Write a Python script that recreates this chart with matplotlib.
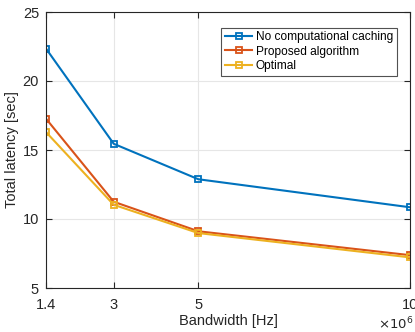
import matplotlib
matplotlib.use('Agg')
import matplotlib.pyplot as plt

plt.rcParams['font.family'] = ['Liberation Sans', 'DejaVu Sans']

bandwidth = [1.4e6, 3e6, 5e6, 10e6]
no_caching = [22.35, 15.45, 12.88, 10.85]
proposed = [17.27, 11.25, 9.11, 7.38]
optimal = [16.3, 11.03, 8.98, 7.22]
xtick_labels = ['1.4', '3', '5', '10']

fig = plt.figure(figsize=(4.15, 3.32), dpi=100)
ax = fig.add_axes([46/415, 1 - 288/332, 364/415, 276/332])

ax.plot(bandwidth, no_caching, color='#0072BD', lw=1.5, marker='s', ms=5,
        mfc='none', mew=1.3, label='No computational caching')
ax.plot(bandwidth, proposed, color='#D95319', lw=1.5, marker='s', ms=5,
        mfc='none', mew=1.3, label='Proposed algorithm')
ax.plot(bandwidth, optimal, color='#EDB120', lw=1.5, marker='s', ms=5,
        mfc='none', mew=1.3, label='Optimal')

ax.set_xlim(1.4e6, 10e6)
ax.set_ylim(5, 25)
ax.set_xticks(bandwidth)
ax.set_xticklabels(xtick_labels)
ax.set_yticks([5, 10, 15, 20, 25])
ax.tick_params(direction='in', top=True, right=True, labelsize=10.5, colors='#262626', length=4)
ax.tick_params(axis='x', pad=7)
ax.tick_params(axis='y', pad=5)
ax.grid(True, color='#e6e6e6', lw=0.8)
ax.set_axisbelow(True)
for s in ax.spines.values():
    s.set_color('#262626')
    s.set_linewidth(0.8)

ax.set_xlabel('Bandwidth [Hz]', fontsize=10.5, color='#262626', labelpad=2)
ax.set_ylabel('Total latency [sec]', fontsize=10.5, color='#262626', labelpad=3)
fig.text(378/415, 1 - 329/332, r'$\times10^{6}$', fontsize=9.5, color='#262626', va='baseline')

leg = ax.legend(loc='upper right', fontsize=8.6, frameon=True, fancybox=False,
                edgecolor='#262626', handlelength=2.3, handletextpad=0.3,
                borderpad=0.3, labelspacing=0.2, bbox_to_anchor=(0.98, 0.965))
leg.get_frame().set_linewidth(0.8)

fig.savefig('out.png', dpi=100)
